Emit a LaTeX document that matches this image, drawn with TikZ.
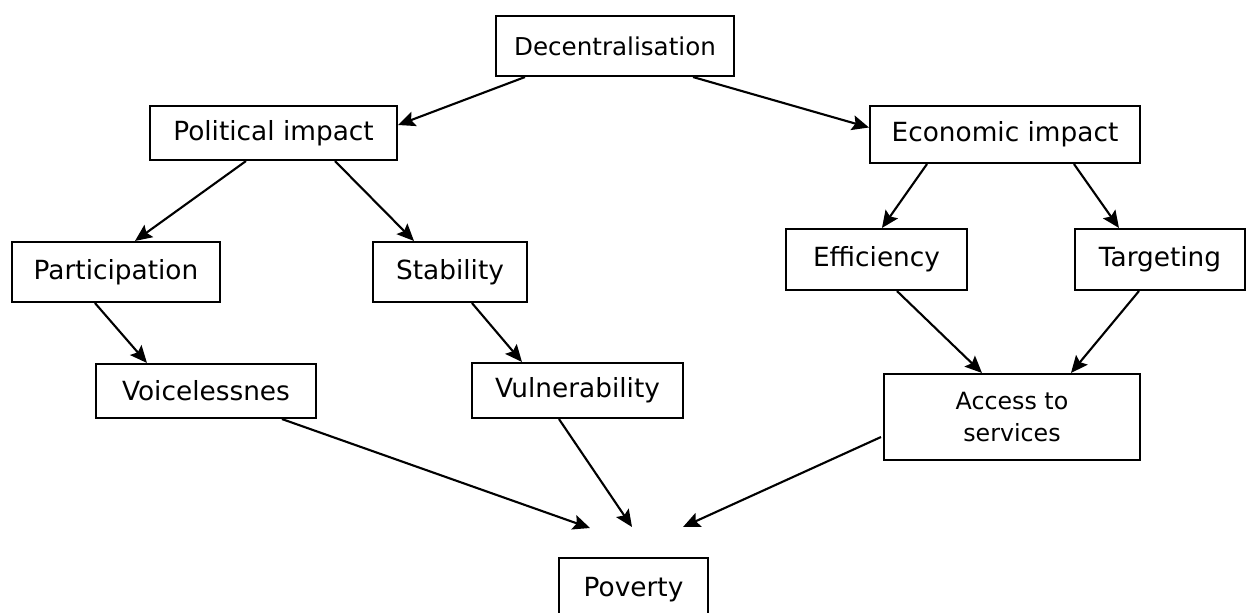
\documentclass[tikz,border=0pt]{standalone}
\usepackage{fontspec}
\setmainfont{DejaVu Sans}
\usetikzlibrary{arrows.meta,calc,positioning}
\tikzset{%
	box/.style   = {draw, rectangle, line width=1.2pt, inner sep=0pt, text centered, align=center, font=\fontsize{15}{18.7}\selectfont},
	small/.style = {font=\fontsize{13.5}{18.7}\selectfont},
	arrow/.style = {line width=1.2pt, -{Stealth[length=3.4mm,width=3mm,inset=0.6mm]}},
}

\begin{document}
\begin{tikzpicture}[x=0.02cm,y=-0.02cm]
	\useasboundingbox (0,0) rectangle (1246,612);
	% boxes
	\node[box, font=\fontsize{14}{17}\selectfont, minimum width=4.76cm, minimum height=1.2cm] (dec) at (615,46) {Decentralisation};
	\node[box, minimum width=4.94cm, minimum height=1.08cm] (pol) at (273.5,133)   {Political impact};
	\node[box, minimum width=5.4cm,  minimum height=1.14cm] (eco) at (1005,134.5)  {Economic impact};
	\node[box, minimum width=4.16cm, minimum height=1.2cm]  (par) at (116,272)     {Participation};
	\node[box, minimum width=3.08cm, minimum height=1.2cm]  (sta) at (450,272)     {Stability};
	\node[box, minimum width=3.62cm, minimum height=1.22cm] (eff) at (876.5,259.5) {Efficiency};
	\node[box, minimum width=3.4cm,  minimum height=1.22cm] (tar) at (1160,259.5)  {Targeting};
	\node[box, minimum width=4.4cm,  minimum height=1.08cm] (vol) at (206,391)     {Voicelessnes};
	\node[box, minimum width=4.22cm, minimum height=1.1cm]  (vul) at (577.5,390.5) {Vulnerability};
	\node[box, small, minimum width=5.12cm, minimum height=1.72cm] (acc) at (1012,417) {Access to\\services};
	\node[box, minimum width=2.98cm, minimum height=1.28cm] (pov) at (633.5,590)   {Poverty};
	% free ends above poverty
	\coordinate (pv1) at (590,528);
	\coordinate (pv2) at (632,527);
	\coordinate (pv3) at (683,527);
	% arrows
	\draw[arrow] ($(dec.south west)+(30,0)$)  -- ($(pol.east)+(0,-8)$);
	\draw[arrow] ($(dec.south east)+(-42,0)$) -- ($(eco.west)+(0,-7)$);
	\draw[arrow] ($(pol.south west)+(97,0)$)  -- ($(par.north)+(19,0)$);
	\draw[arrow] ($(pol.south west)+(186,0)$) -- ($(sta.north west)+(42,0)$);
	\draw[arrow] ($(par.south west)+(84,0)$)  -- ($(vol.north west)+(52,0)$);
	\draw[arrow] ($(sta.south west)+(100,0)$) -- ($(vul.north west)+(51,0)$);
	\draw[arrow] ($(eco.south west)+(58,0)$)  -- ($(eff.north west)+(97,0)$);
	\draw[arrow] ($(eco.south west)+(205,0)$) -- ($(tar.north west)+(45,0)$);
	\draw[arrow] ($(eff.south west)+(112,0)$) -- ($(acc.north west)+(99,0)$);
	\draw[arrow] ($(tar.south west)+(65,0)$)  -- ($(acc.north west)+(188,0)$);
	\draw[arrow] ($(vol.south west)+(187,0)$) -- (pv1);
	\draw[arrow] ($(vul.south west)+(88,0)$)  -- (pv2);
	\draw[arrow] ($(acc.west)+(-2,20)$)       -- (pv3);
\end{tikzpicture}
\end{document}
